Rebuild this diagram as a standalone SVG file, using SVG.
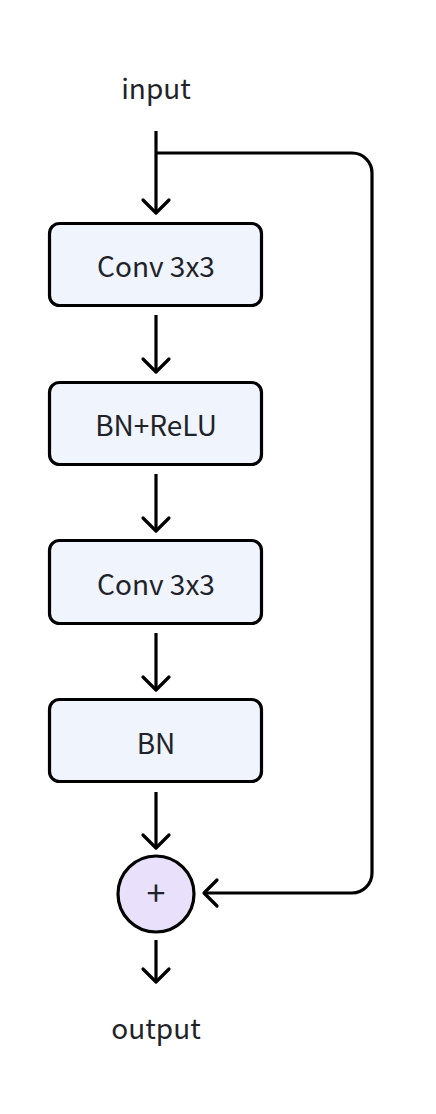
<svg xmlns="http://www.w3.org/2000/svg" width="436" height="1114" viewBox="0 0 436 1114">
<defs>
<style>
.box{fill:#eff4fd;stroke:#000;stroke-width:3.2}
.sum{fill:#e9e1fb;stroke:#000;stroke-width:3.2}
.lbl{font-family:"Noto Sans CJK SC","Noto Sans",sans-serif;font-size:28px;fill:#1f2329;text-anchor:middle}
.plus{font-size:34px}
.edge{fill:none;stroke:#000;stroke-width:3.2}
.head{fill:none;stroke:#000;stroke-width:3.2;stroke-linecap:round;stroke-linejoin:round}
</style>
</defs>
<rect width="436" height="1114" fill="#fff"/>
<g id="input"><text class="lbl" x="156" y="99">input</text></g>
<g id="conv1"><rect class="box" x="49.5" y="223.5" width="212" height="82" rx="10"/><text class="lbl" x="156" y="277">Conv 3x3</text></g>
<g id="bnrelu"><rect class="box" x="49.5" y="382.5" width="212" height="82" rx="10"/><text class="lbl" x="156" y="436">BN+ReLU</text></g>
<g id="conv2"><rect class="box" x="49.5" y="540.5" width="212" height="83" rx="10"/><text class="lbl" x="156" y="595">Conv 3x3</text></g>
<g id="bn"><rect class="box" x="49.5" y="699.5" width="212" height="82" rx="10"/><text class="lbl" x="156" y="754">BN</text></g>
<g id="add"><circle class="sum" cx="156" cy="894" r="38"/><text class="lbl plus" x="156" y="906">+</text></g>
<g id="output"><text class="lbl" x="156" y="1039">output</text></g>
<g id="connectors">
<path class="edge" d="M156 131V213"/><path class="head" d="M143 200L156 213L169 200"/>
<path class="edge" d="M156 153H352A20 20 0 0 1 372 173V873A20 20 0 0 1 352 893H204"/><path class="head" d="M217 880L204 893L217 906"/>
<path class="edge" d="M156 315V372"/><path class="head" d="M143 359L156 372L169 359"/>
<path class="edge" d="M156 474V531"/><path class="head" d="M143 518L156 531L169 518"/>
<path class="edge" d="M156 633V690"/><path class="head" d="M143 677L156 690L169 677"/>
<path class="edge" d="M156 792V848"/><path class="head" d="M143 835L156 848L169 835"/>
<path class="edge" d="M156 940V982"/><path class="head" d="M143 969L156 982L169 969"/>
</g>
</svg>
